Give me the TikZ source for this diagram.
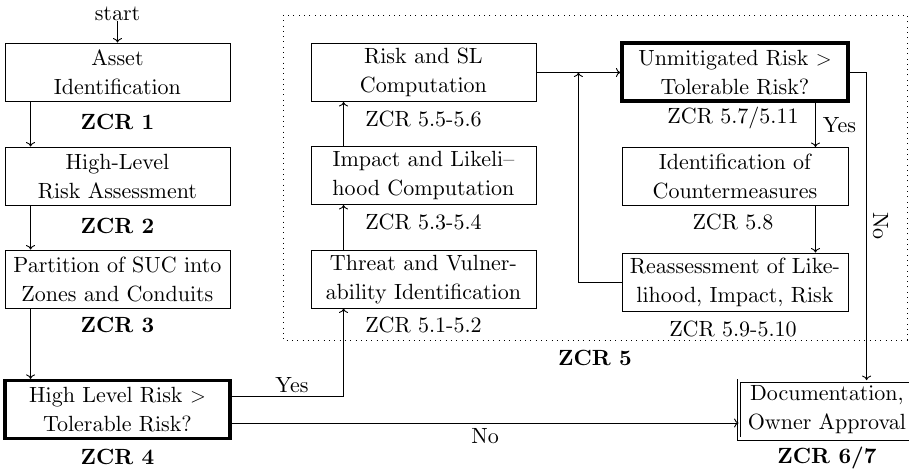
\documentclass[tikz,border=0pt]{standalone}
\usetikzlibrary{arrows.meta,calc}
% design-size 10 fonts, scaled up
\font\rmtext=cmr10 at 22pt
\font\bftext=cmbx10 at 22pt
\begin{document}
\begin{tikzpicture}[x=1pt,y=-1pt,
  font={\fontsize{22}{29}\selectfont\rmtext},
  stepbox/.style={draw, line width=0.9pt, minimum width=225pt, minimum height=58pt,
    align=center, inner sep=0pt},
  decision/.style={stepbox, line width=3.2pt},
  finalbox/.style={draw, double, double distance=2.4pt, line width=0.8pt,
    minimum width=176pt, minimum height=58pt, align=center, inner sep=0pt},
  zcr/.style={inner sep=0pt, font={\fontsize{22}{29}\selectfont\bftext}},
  sub/.style={inner sep=0pt},
  arr/.style={line width=0.9pt, -{To[length=4.5pt,width=9pt]}},
  zone/.style={line width=0.9pt, dash pattern=on 0.9pt off 4.4pt}
]
\useasboundingbox (0,0) rectangle (909,470);

% dotted frame around the ZCR 5 steps
\draw[zone] (283,15) rectangle (907,340);
\node[zcr] (z5) at (595,358) {ZCR 5};

% left column
\node[sub] (start) at (117.5,14) {start};
\node[stepbox] (asset) at (117.5,72) {Asset\\Identification};
\node[zcr] (z1) at (117.5,122) {ZCR 1};
\node[stepbox] (high) at (117.5,176) {High-Level\\Risk Assessment};
\node[zcr] (z2) at (117.5,226) {ZCR 2};
\node[stepbox] (part) at (117.5,279) {Partition of SUC into\\Zones and Conduits};
\node[zcr] (z3) at (117.5,325) {ZCR 3};
\node[decision] (dec) at (117.5,409.5) {High Level Risk $>$\\Tolerable Risk?};
\node[zcr] (z4) at (117.5,457) {ZCR 4};

% middle column
\node[stepbox] (risk) at (423.5,72.5) {Risk and SL\\Computation};
\node[sub] (s56) at (423.5,119) {ZCR 5.5-5.6};
\node[stepbox] (impact) at (423.5,175.5) {Impact and Likeli--\\hood Computation};
\node[sub] (s34) at (423.5,222) {ZCR 5.3-5.4};
\node[stepbox] (threat) at (423.5,279) {Threat and Vulner-\\ability Identification};
\node[sub] (s12) at (423.5,325) {ZCR 5.1-5.2};

% right column
\node[decision, minimum width=226pt] (unmit) at (735,72) {Unmitigated Risk $>$\\Tolerable Risk?};
\node[sub] (s711) at (733,118) {ZCR 5.7/5.11};
\node[stepbox, minimum width=226pt] (ident) at (735,176.5) {Identification of\\Countermeasures};
\node[sub] (s8) at (733,222) {ZCR 5.8};
\node[stepbox, minimum width=226pt] (reass) at (735,282) {Reassessment of Like-\\lihood, Impact, Risk};
\node[sub] (s910) at (733,329) {ZCR 5.9-5.10};

% final step
\node[finalbox] (doc) at (827,409.5) {Documentation,\\Owner Approval};
\node[zcr] (z67) at (827,458) {ZCR 6/7};

% connectors
\draw[arr] (start.south) -- (asset.north);
\draw[arr] ([xshift=26pt]asset.south west) -- ([xshift=26pt]asset.south west |- high.north);
\draw[arr] ([xshift=26pt]high.south west) -- ([xshift=26pt]high.south west |- part.north);
\draw[arr] ([xshift=26pt]part.south west) -- ([xshift=26pt]part.south west |- dec.north);
\draw[arr] ([yshift=13.5pt]dec.east) -| node[pos=0.27, above, inner sep=3pt] {Yes} ([xshift=33pt]threat.south west);
\draw[arr] ([yshift=-13.5pt]dec.east) -- node[midway, below, inner sep=5pt] {No} ([yshift=-13.5pt]doc.west);
\draw[arr] ([xshift=33pt]threat.north west) -- ([xshift=33pt]impact.south west);
\draw[arr] ([xshift=33pt]impact.north west) -- ([xshift=33pt]risk.south west);
\draw[arr] (risk.east) -- (risk.east -| unmit.west);
\draw[arr] (reass.west) -| ($(risk.east)!0.5!(risk.east -| unmit.west)$);
\draw[arr] ([xshift=-33pt]ident.north east |- unmit.south) -- node[midway, right, inner sep=7pt] {Yes} ([xshift=-33pt]ident.north east);
\draw[arr] ([xshift=-33pt]ident.south east) -- ([xshift=-33pt]reass.north east);
\draw[arr] (unmit.east) -| node[pos=0.75, rotate=-90, anchor=south, inner sep=6pt] {No} ([xshift=128pt]doc.north west);
\end{tikzpicture}
\end{document}
